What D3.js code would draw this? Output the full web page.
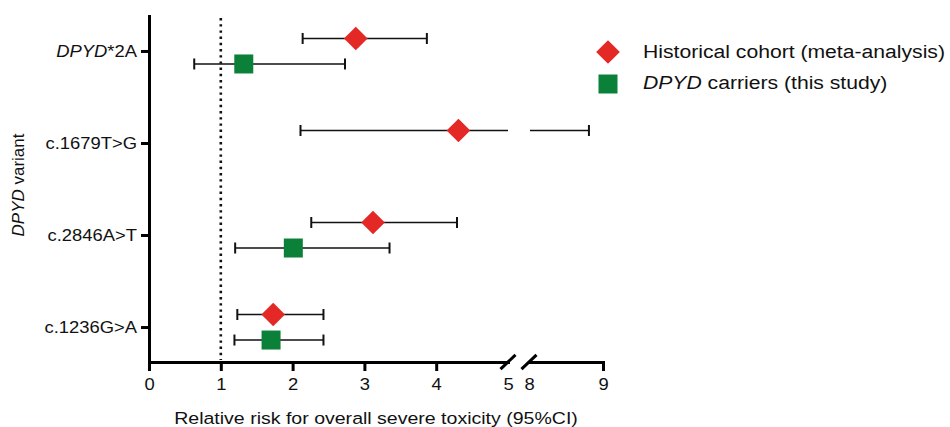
<!DOCTYPE html>
<html>
<head>
<meta charset="utf-8">
<script src="https://cdn.jsdelivr.net/npm/d3@7"></script>
<style>
  body { margin: 0; background: #fff; }
  svg { display: block; font-family: "Liberation Sans", Arial, sans-serif; }
</style>
</head>
<body>
<svg id="chart" width="950" height="427"></svg>
<script>
// values
const variants = ["DPYD*2A", "c.1679T>G", "c.2846A>T", "c.1236G>A"];
const histRR = [2.88, 4.31, 3.12, 1.73];
const histLo = [2.14, 2.11, 2.26, 1.23];
const histHi = [3.87, 8.81, 4.29, 2.43];
const studyRR = [1.32, null, 2.01, 1.70];
const studyLo = [0.63, null, 1.20, 1.19];
const studyHi = [2.73, null, 3.35, 2.43];
const ticksLeft = [0, 1, 2, 3, 4, 5];
const ticksRight = [8, 9];
const seriesNames = ["Historical cohort (meta-analysis)", "DPYD carriers (this study)"];

const red = "#e32826", green = "#0b8038", ink = "#111";
const stretch = 1.15; // the source font is wider than Arial

const svg = d3.select("#chart");

// broken x axis: two linear pieces
const x1 = d3.scaleLinear().domain([0, 5]).range([149, 508]);
const x2 = d3.scaleLinear().domain([8, 9]).range([529, 603]);
const xPos = v => v <= 5 ? x1(v) : x2(v);
const y = d3.scalePoint().domain(variants).range([16, 362]).padding(0.38);
const yBase = 362;

function widen(sel) {
  sel.each(function () {
    const t = d3.select(this);
    const tx = +t.attr("x") || 0, ty = +t.attr("y") || 0;
    t.attr("x", 0).attr("y", 0)
      .attr("transform", `translate(${tx},${ty}) scale(${stretch},1)`);
  });
}

// reference line at RR = 1
svg.append("line")
  .attr("x1", x1(1)).attr("x2", x1(1))
  .attr("y1", 18).attr("y2", yBase - 2)
  .attr("stroke", ink).attr("stroke-width", 2.6)
  .attr("stroke-dasharray", "2.4,3.8");

// axes
const yAxis = svg.append("g")
  .attr("transform", "translate(149,0)")
  .call(d3.axisLeft(y).tickSize(8).tickSizeOuter(0).tickPadding(4));

const xAxisA = svg.append("g")
  .attr("transform", `translate(0,${yBase})`)
  .call(d3.axisBottom(x1).tickValues(ticksLeft).tickFormat(d3.format("d"))
    .tickSize(9).tickSizeOuter(0).tickPadding(8));
const xAxisB = svg.append("g")
  .attr("transform", `translate(0,${yBase})`)
  .call(d3.axisBottom(x2).tickValues(ticksRight).tickFormat(d3.format("d"))
    .tickSize(9).tickSizeOuter(0).tickPadding(8));

[yAxis, xAxisA, xAxisB].forEach(g => {
  g.select(".domain").attr("stroke", "#000").attr("stroke-width", 3).attr("stroke-linecap", "square");
  g.selectAll(".tick line").attr("stroke", "#000").attr("stroke-width", 3);
  g.selectAll(".tick text").attr("fill", ink).attr("font-size", 16)
    .attr("font-family", "'Liberation Sans', Arial, sans-serif");
  widen(g.selectAll(".tick text"));
});
// no tick marks at the break
xAxisA.selectAll(".tick").filter(d => d === 5).select("line").remove();
xAxisB.selectAll(".tick").filter(d => d === 8).select("line").remove();

// italic gene name in the first label
yAxis.selectAll(".tick text").filter(d => d.startsWith("DPYD")).each(function (d) {
  const t = d3.select(this).text(null);
  t.append("tspan").attr("font-style", "italic").text("DPYD");
  t.append("tspan").text(d.slice(4));
});

// break slashes
svg.append("g").selectAll("line")
  .data([5, 8])
  .join("line")
    .attr("x1", d => xPos(d) - 7.5).attr("y1", yBase + 7.2)
    .attr("x2", d => xPos(d) + 7.5).attr("y2", yBase - 7.2)
    .attr("stroke", "#000").attr("stroke-width", 3);

// error bars and markers
const rows = [];
variants.forEach((v, i) => {
  rows.push({ v, rr: histRR[i], lo: histLo[i], hi: histHi[i], dy: -12.5, s: 0 });
  if (studyRR[i] != null) rows.push({ v, rr: studyRR[i], lo: studyLo[i], hi: studyHi[i], dy: 13, s: 1 });
});

const bars = svg.append("g").attr("stroke", ink).attr("stroke-width", 1.6);
rows.forEach(r => {
  const yy = y(r.v) + r.dy;
  if (r.hi > 5) {
    bars.append("line").attr("x1", xPos(r.lo)).attr("x2", x1(5)).attr("y1", yy).attr("y2", yy);
    bars.append("line").attr("x1", x2(8) + 1).attr("x2", xPos(r.hi)).attr("y1", yy).attr("y2", yy);
  } else {
    bars.append("line").attr("x1", xPos(r.lo)).attr("x2", xPos(r.hi)).attr("y1", yy).attr("y2", yy);
  }
  [r.lo, r.hi].forEach(c => {
    bars.append("line").attr("x1", xPos(c)).attr("x2", xPos(c))
      .attr("y1", yy - 5.5).attr("y2", yy + 5.5).attr("stroke-width", 2);
  });
});

const diamond = d3.symbol().type(d3.symbolSquare).size(280);
const square = d3.symbol().type(d3.symbolSquare).size(361);
svg.append("g").selectAll("path")
  .data(rows)
  .join("path")
    .attr("d", d => d.s === 0 ? diamond() : square())
    .attr("fill", d => d.s === 0 ? red : green)
    .attr("transform", d => `translate(${xPos(d.rr)},${y(d.v) + d.dy})` + (d.s === 0 ? " rotate(45)" : ""));

// axis titles
svg.append("text")
  .attr("transform", `translate(376,424) scale(${stretch},1)`)
  .attr("text-anchor", "middle").attr("font-size", 17).attr("fill", ink)
  .text("Relative risk for overall severe toxicity (95%CI)");

const yt = svg.append("text")
  .attr("transform", "translate(24,185) rotate(-90)")
  .attr("text-anchor", "middle").attr("font-size", 17).attr("fill", ink);
yt.append("tspan").attr("font-style", "italic").text("DPYD");
yt.append("tspan").text(" variant");

// legend
const legend = svg.append("g");
legend.append("path").attr("d", diamond()).attr("fill", red)
  .attr("transform", "translate(608,52) rotate(45)");
legend.append("path").attr("d", square()).attr("fill", green)
  .attr("transform", "translate(608,84)");
legend.append("text")
  .attr("transform", `translate(643,58) scale(${stretch},1)`)
  .attr("font-size", 18.4).attr("fill", ink)
  .text(seriesNames[0]);
const l2 = legend.append("text")
  .attr("transform", `translate(643,89) scale(${stretch},1)`)
  .attr("font-size", 18.4).attr("fill", ink);
l2.append("tspan").attr("font-style", "italic").text(seriesNames[1].slice(0, 4));
l2.append("tspan").text(seriesNames[1].slice(4));
</script>
</body>
</html>
